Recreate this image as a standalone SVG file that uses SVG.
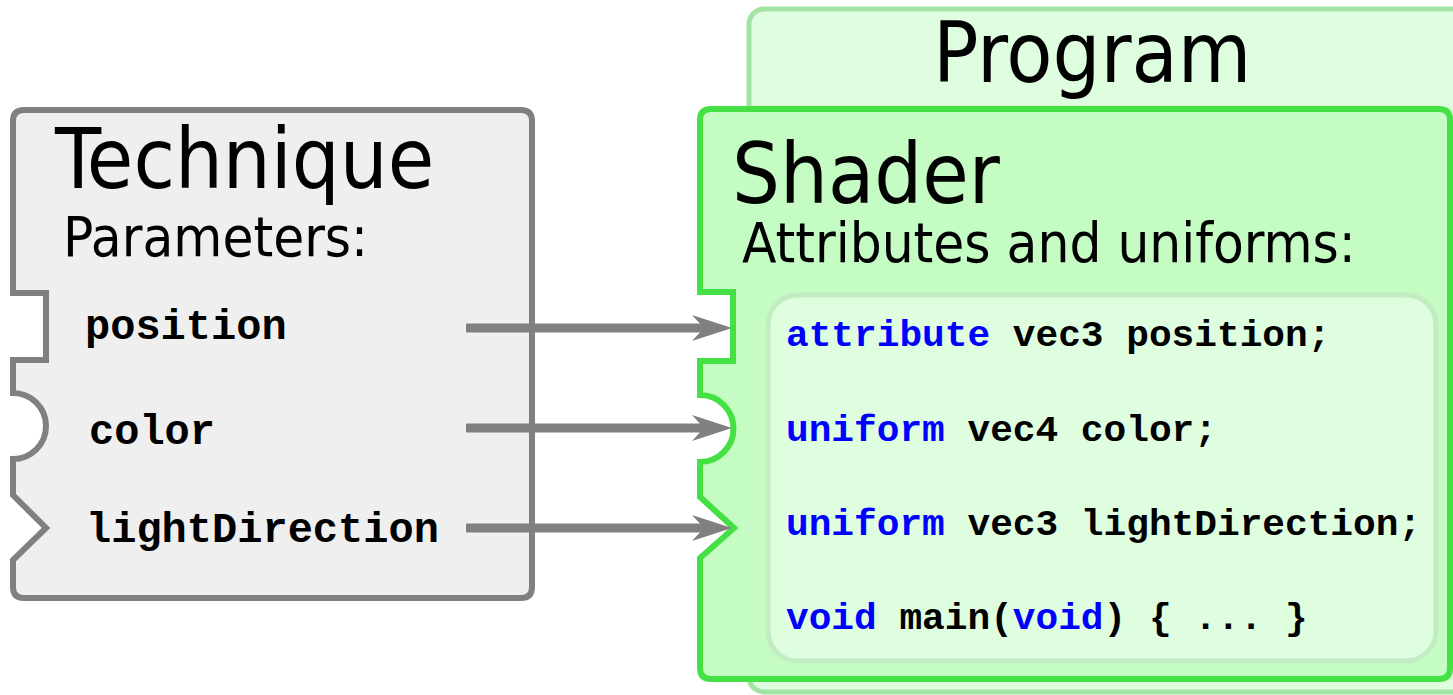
<svg xmlns="http://www.w3.org/2000/svg" width="1453" height="695" viewBox="0 0 1453 695">
<style>
.title{font-family:"DejaVu Sans Condensed","DejaVu Sans",sans-serif;font-stretch:condensed;fill:#000}
.big{font-size:84px}
.sub{font-size:56px}
.mono{font-family:"Liberation Mono","Courier New",monospace;font-weight:bold;fill:#000}
.lbl{font-size:42px}
.code{font-size:37.8px}
.kw{fill:#0000ff}
.conn{stroke:#808080;stroke-width:9;fill:none}
</style>
<defs>
<marker id="arr" markerUnits="userSpaceOnUse" viewBox="0 0 44 30" markerWidth="44" markerHeight="30" refX="22" refY="15" orient="auto">
<path d="M2,2 L42,15 L2,28 L14,15 Z" fill="#808080"/>
</marker>
</defs>
<rect width="1453" height="695" fill="#ffffff"/>
<g id="program">
<rect x="749" y="9" width="720" height="683" rx="15" fill="#dffddf" stroke="#a3e3a3" stroke-width="5"/>
<text class="title big" x="933" y="82">Program</text>
</g>
<g id="technique">
<path d="M24,110 H521 Q532,110 532,121 V587 Q532,598 521,598 H24 Q13,598 13,587 V560 L46,528 L13,495 V459 A33 33 0 0 0 13,393 V360 H46 V293 H13 V121 Q13,110 24,110 Z" fill="#efefef" stroke="#808080" stroke-width="6"/>
<text class="title big" x="55" y="188">Technique</text>
<text class="title sub" x="63" y="256">Parameters:</text>
<text class="mono lbl" x="85" y="339">position</text>
<text class="mono lbl" x="89" y="444">color</text>
<text class="mono lbl" x="86" y="542">lightDirection</text>
</g>
<g id="shader">
<path d="M711,109 H1439 Q1450,109 1450,120 V668 Q1450,679 1439,679 H711 Q700,679 700,668 V558 L734,528 L700,497 V462 A33.5 33.5 0 0 0 700,395 V361 H733 V292 H700 V120 Q700,109 711,109 Z" fill="#c4fcc4" stroke="#44e044" stroke-width="6"/>
<text class="title big" x="732" y="203">Shader</text>
<text class="title sub" x="742" y="262">Attributes and uniforms:</text>
<rect x="768" y="295" width="668" height="366" rx="30" fill="#dffddf" stroke="#c2ecc2" stroke-width="5"/>
<text class="mono code" x="786" y="346"><tspan class="kw">attribute</tspan> vec3 position;</text>
<text class="mono code" x="786" y="441"><tspan class="kw">uniform</tspan> vec4 color;</text>
<text class="mono code" x="786" y="535"><tspan class="kw">uniform</tspan> vec3 lightDirection;</text>
<text class="mono code" x="786" y="629"><tspan class="kw">void</tspan> main(<tspan class="kw">void</tspan>) { ... }</text>
</g>
<g id="connectors">
<line class="conn" x1="466" y1="328" x2="712" y2="328" marker-end="url(#arr)"/>
<line class="conn" x1="466" y1="428" x2="712" y2="428" marker-end="url(#arr)"/>
<line class="conn" x1="466" y1="528" x2="712" y2="528" marker-end="url(#arr)"/>
</g>
</svg>
